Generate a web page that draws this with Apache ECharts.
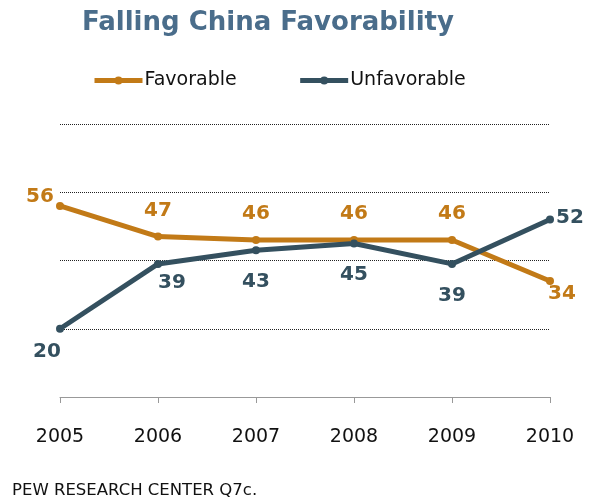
<!DOCTYPE html>
<html><head><meta charset="utf-8">
<script src="https://cdn.jsdelivr.net/npm/echarts@6/dist/echarts.min.js"></script>
<style>html,body{margin:0;padding:0;background:#fff}#c{width:592px;height:503px}</style>
</head><body><div id="c"></div>
<script>
var years = ['2005','2006','2007','2008','2009','2010'];
var favorable = [56, 47, 46, 46, 46, 34];
var unfavorable = [20, 39, 43, 45, 39, 52];
var seriesNames = ['Favorable', 'Unfavorable'];

var favColor = '#c27a17';
var unfColor = '#34505f';
var favOffsets = [[-20,10],[0,-7],[0,-7],[0,-7],[0,-7],[12,32]];
var unfOffsets = [[-13,42],[14,38],[0,51],[0,50],[0,51],[20,17]];

function mk(vals, offs) {
  return vals.map(function (v, i) {
    return { value: v, label: { offset: offs[i] } };
  });
}
var labelFont = { fontFamily: 'DejaVu Sans', fontWeight: 'bold', fontSize: 20 };

var chart = echarts.init(document.getElementById('c'));
chart.setOption({
  animation: false,
  title: {
    text: 'Falling China Favorability', left: 77, top: 5,
    textStyle: { fontFamily: 'DejaVu Sans', fontWeight: 'bold', fontSize: 26, color: '#4a6d8b' }
  },
  legend: {
    top: 66, left: 87, itemWidth: 48, itemHeight: 10, itemGap: 61,
    textStyle: { fontFamily: 'DejaVu Sans', fontSize: 19, color: '#111', padding: [0, 0, 0, -3] },
    data: [
      { name: seriesNames[0], lineStyle: { width: 5, color: favColor } },
      { name: seriesNames[1], lineStyle: { width: 5, color: unfColor } }
    ]
  },
  grid: { left: 60, right: 42, top: 124, bottom: 106 },
  xAxis: {
    type: 'category', data: years, boundaryGap: false,
    axisLine: { lineStyle: { color: '#999', width: 1 } },
    axisTick: { show: true, length: 6, lineStyle: { color: '#999' } },
    axisLabel: { fontFamily: 'DejaVu Sans', fontSize: 19, color: '#111', margin: 31 }
  },
  yAxis: {
    type: 'value', min: 0, max: 80, interval: 20,
    axisLine: { show: false }, axisTick: { show: false }, axisLabel: { show: false },
    splitLine: { lineStyle: { type: [1, 1], color: '#222', width: 1 } }
  },
  series: [
    {
      name: seriesNames[0], type: 'line', data: mk(favorable, favOffsets),
      lineStyle: { color: favColor, width: 5 }, itemStyle: { color: favColor },
      symbol: 'circle', symbolSize: 8,
      label: Object.assign({ show: true, position: 'top', color: favColor }, labelFont)
    },
    {
      name: seriesNames[1], type: 'line', data: mk(unfavorable, unfOffsets),
      lineStyle: { color: unfColor, width: 5 }, itemStyle: { color: unfColor },
      symbol: 'circle', symbolSize: 8,
      label: Object.assign({ show: true, position: 'top', color: unfColor }, labelFont)
    }
  ],
  graphic: [{
    type: 'text', left: 12, top: 482,
    style: { text: 'PEW RESEARCH CENTER Q7c.', fontFamily: 'DejaVu Sans', fontSize: 16.5, fill: '#111' }
  }]
});
</script></body></html>
